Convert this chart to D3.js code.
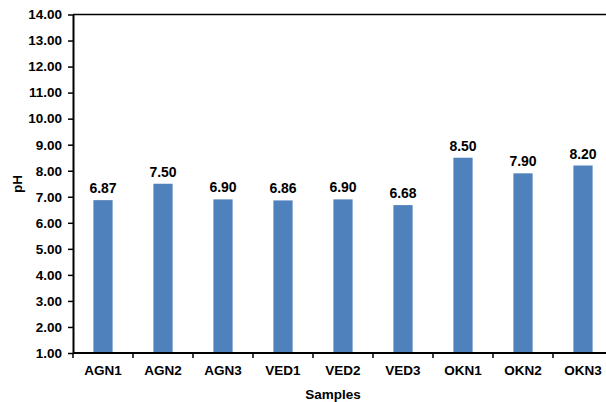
<!DOCTYPE html>
<html>
<head>
<meta charset="utf-8">
<script src="https://cdn.jsdelivr.net/npm/d3@7"></script>
<style>
  html, body { margin: 0; padding: 0; background: #fff; overflow: hidden; }
  svg text { font-family: "Liberation Sans", Arial, sans-serif; font-weight: bold; fill: #000; }
</style>
</head>
<body>
<svg id="chart" width="606" height="402"></svg>
<script>
// pH of each sample
const categories = ["AGN1", "AGN2", "AGN3", "VED1", "VED2", "VED3", "OKN1", "OKN2", "OKN3"];
const values = [6.87, 7.50, 6.90, 6.86, 6.90, 6.68, 8.50, 7.90, 8.20];
const yTicks = [1, 2, 3, 4, 5, 6, 7, 8, 9, 10, 11, 12, 13, 14];

const svg = d3.select("#chart");
const plotLeft = 73, plotRight = 613, plotTop = 14.5, plotBottom = 353;

const x = d3.scaleBand().domain(categories).range([plotLeft, plotRight])
  .paddingInner(0.68).paddingOuter(0.34);
const y = d3.scaleLinear().domain([1, 14]).range([plotBottom, plotTop]);

// plot frame (top edge)
svg.append("line").attr("x1", plotLeft).attr("x2", plotRight)
  .attr("y1", plotTop).attr("y2", plotTop)
  .attr("stroke", "#000").attr("stroke-width", 1.5);

// bars
svg.append("g").selectAll("rect").data(values).join("rect")
  .attr("x", (d, i) => x(categories[i]))
  .attr("y", d => y(d))
  .attr("width", x.bandwidth())
  .attr("height", d => plotBottom - y(d))
  .attr("fill", "#4F81BD");

// value labels
svg.append("g").selectAll("text").data(values).join("text")
  .attr("x", (d, i) => x(categories[i]) + x.bandwidth() / 2)
  .attr("y", d => y(d) - 7)
  .attr("text-anchor", "middle")
  .attr("font-size", 14)
  .text(d => d.toFixed(2));

// y axis
const yAxis = svg.append("g").attr("transform", `translate(${plotLeft},0)`)
  .call(d3.axisLeft(y).tickValues(yTicks).tickFormat(d => d.toFixed(2))
    .tickSize(5).tickSizeOuter(0).tickPadding(6));
yAxis.select(".domain").attr("stroke-width", 2);
yAxis.selectAll(".tick line").attr("stroke-width", 1.5);
yAxis.selectAll("text").attr("font-size", 13.5).style("font-family", "'Liberation Sans', Arial, sans-serif").style("font-weight", "bold");

// x axis line and separators between categories
svg.append("line").attr("x1", plotLeft).attr("x2", plotRight)
  .attr("y1", plotBottom).attr("y2", plotBottom)
  .attr("stroke", "#000").attr("stroke-width", 2);
const gap = x.step() - x.bandwidth();
const sepPositions = categories.map(c => x(c) - gap / 2).concat([x(categories[categories.length - 1]) + x.bandwidth() + gap / 2]);
svg.append("g").selectAll("line").data(sepPositions).join("line")
  .attr("x1", d => d).attr("x2", d => d)
  .attr("y1", plotBottom).attr("y2", plotBottom + 5)
  .attr("stroke", "#000").attr("stroke-width", 1.5);

// category labels
svg.append("g").selectAll("text").data(categories).join("text")
  .attr("x", d => x(d) + x.bandwidth() / 2)
  .attr("y", 375)
  .attr("text-anchor", "middle")
  .attr("font-size", 13.5)
  .text(d => d);

// axis titles
svg.append("text").attr("x", 333).attr("y", 399)
  .attr("text-anchor", "middle").attr("font-size", 13.5).text("Samples");
svg.append("text").attr("transform", "translate(22,184) rotate(-90)")
  .attr("text-anchor", "middle").attr("font-size", 13.5).text("pH");
</script>
</body>
</html>
